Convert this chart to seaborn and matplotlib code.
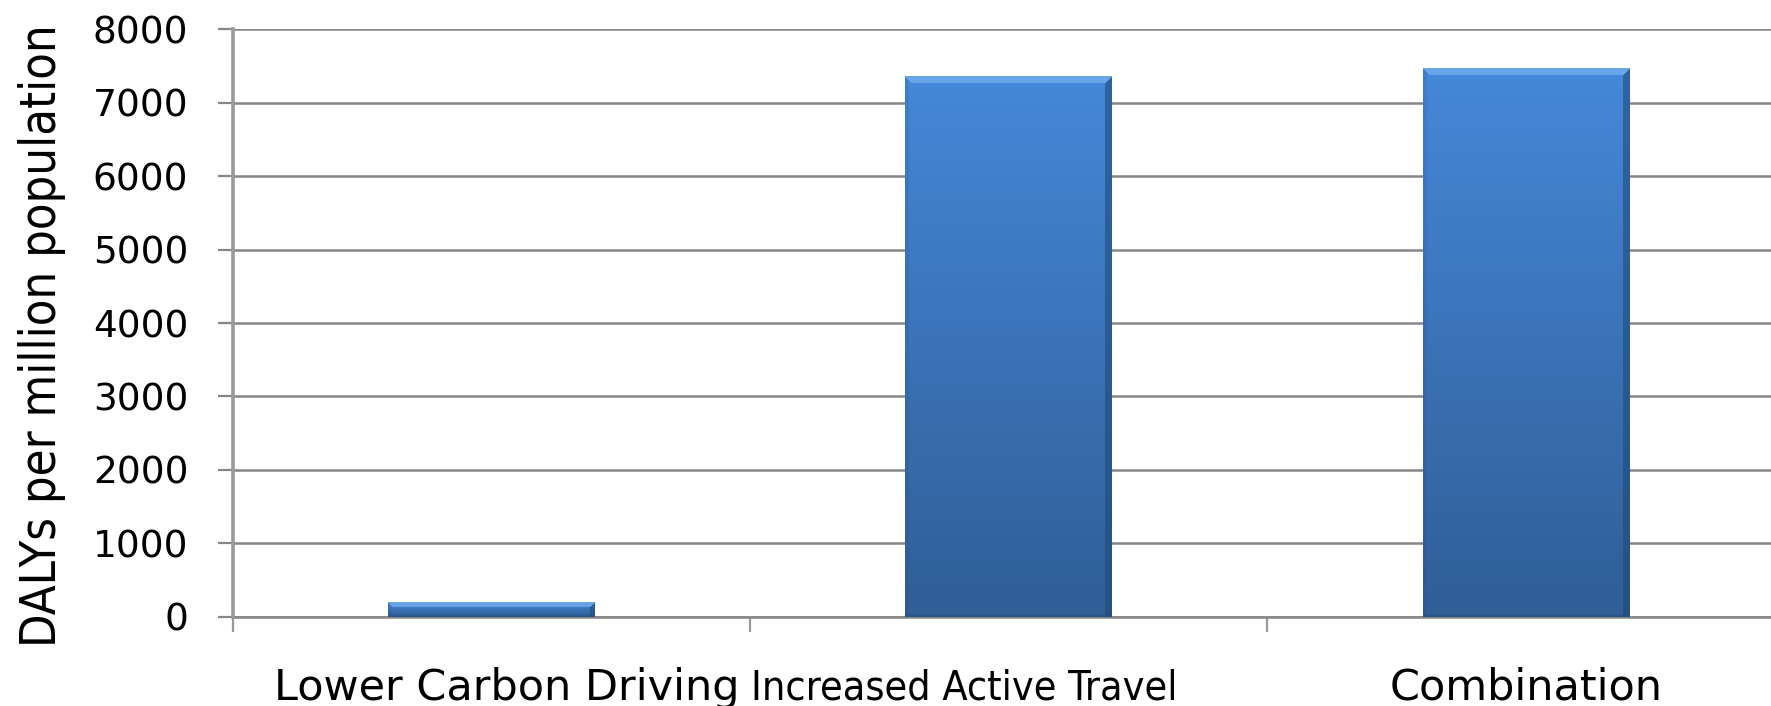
import numpy as np
import pandas as pd
import matplotlib
matplotlib.use("Agg")
import matplotlib.pyplot as plt
import matplotlib.colors as mcolors
import matplotlib.transforms as mtransforms
from matplotlib.ticker import FixedLocator
import seaborn as sns

# Health gains by transport scenario
categories = ["Lower Carbon Driving", "Increased Active Travel", "Combination"]
dalys = [200, 7360, 7470]
y_ticks = [0, 1000, 2000, 3000, 4000, 5000, 6000, 7000, 8000]
y_label = "DALYs per million population"

df = pd.DataFrame({"scenario": categories, "dalys": dalys})

sns.set_theme(style="white")
plt.rcParams["font.family"] = ["DejaVu Sans"]

W, H, DPI = 1771, 706, 100
fig = plt.figure(figsize=(W / DPI, H / DPI), dpi=DPI)
fig.patch.set_facecolor("white")
ax = fig.add_axes([0.1314, 0.1265, 0.8763, 0.8319])

sns.barplot(data=df, x="scenario", y="dalys", color="#3f7fcf", width=0.4,
            saturation=1, ax=ax, zorder=3)

ax.set_ylim(0, 8000)
ax.set_xlim(-0.5, 2.5)

grid_col = "#868686"
ax.yaxis.set_major_locator(FixedLocator(y_ticks))
ax.set_yticklabels([str(v) for v in y_ticks], fontsize=27, color="black")
ax.tick_params(axis="y", which="major", left=True, length=11, width=1.6,
               color=grid_col, pad=21)
ax.grid(axis="y", color=grid_col, linewidth=1.8, zorder=0)
ax.grid(axis="x", visible=False)

# category labels under the bars, tick marks on the category boundaries
ax.set_xticks([0, 1, 2])
ax.set_xticklabels([])
ax.tick_params(axis="x", which="major", bottom=False, length=0)
ax.xaxis.set_minor_locator(FixedLocator([-0.5, 0.5, 1.5, 2.5]))
ax.tick_params(axis="x", which="minor", bottom=True, length=11, width=1.6,
               color="#9a9a9a", direction="out")

label_style = [
    dict(fontsize=31, stretch="normal", dx=15),
    dict(fontsize=29.5, stretch="condensed", dx=-44),
    dict(fontsize=31, stretch="normal", dx=0),
]
base = mtransforms.blended_transform_factory(ax.transData, fig.transFigure)
for i, (name, st) in enumerate(zip(categories, label_style)):
    tr = base + mtransforms.ScaledTranslation(st["dx"] / DPI, 0,
                                              fig.dpi_scale_trans)
    ax.text(i, 6.0 / H, name, transform=tr, ha="center", va="baseline",
            fontsize=st["fontsize"], fontstretch=st["stretch"],
            family=["DejaVu Sans"], color="black", clip_on=False)

ax.set_xlabel("")
ax.set_ylabel("")
for side in ["top", "right"]:
    ax.spines[side].set_visible(False)
ax.spines["left"].set_color("#9a9a9a")
ax.spines["left"].set_linewidth(2.6)
ax.spines["left"].set_zorder(4)
ax.spines["bottom"].set_color(grid_col)
ax.spines["bottom"].set_linewidth(1.8)

fig.text(0.0235, 0.525, y_label, rotation=90, ha="center", va="center",
         fontsize=35, fontstretch="condensed", family=["DejaVu Sans"],
         color="black")

# bevelled gradient fill for each bar
fig.canvas.draw()
px_per_x = ax.bbox.width / 3.0
px_per_y = ax.bbox.height / 8000.0
top_c = np.array(mcolors.to_rgb("#4588d9"))
bot_c = np.array(mcolors.to_rgb("#305e96"))
hi_c = np.array(mcolors.to_rgb("#80b9f4"))
dark_c = np.array(mcolors.to_rgb("#1e4674"))
for patch in ax.patches:
    x0, y0 = patch.get_x(), patch.get_y()
    w, h = patch.get_width(), patch.get_height()
    wpx = max(int(round(w * px_per_x)), 2)
    hpx = max(int(round(h * px_per_y)), 2)
    bev = max(2, min(7, hpx // 3))
    t = np.linspace(0, 1, hpx)[:, None]
    img = (1 - t)[..., None] * top_c + t[..., None] * bot_c
    img = np.broadcast_to(img, (hpx, wpx, 3)).copy()
    rows = np.arange(hpx)[:, None]
    cols = np.arange(wpx)[None, :]
    top_band = (rows < bev) & (cols >= rows) & (cols < wpx - rows)
    right_band = (cols >= wpx - bev) & ~top_band
    left_band = (cols < bev // 2 + 1) & ~top_band
    bottom_band = (rows >= hpx - bev // 2) & ~right_band
    img[top_band] = 0.4 * img[top_band] + 0.6 * hi_c
    img[right_band] = 0.45 * img[right_band] + 0.55 * dark_c
    img[left_band] = 0.85 * img[left_band] + 0.15 * dark_c
    img[bottom_band] = 0.7 * img[bottom_band] + 0.3 * dark_c
    patch.set_facecolor("none")
    patch.set_edgecolor("none")
    im = ax.imshow(img, extent=[x0, x0 + w, y0, y0 + h], origin="upper",
                   aspect="auto", zorder=3, interpolation="bilinear")
    im.set_clip_path(patch)

ax.set_xlim(-0.5, 2.5)
ax.set_ylim(0, 8000)

fig.savefig("out.png", dpi=DPI, facecolor="white")
